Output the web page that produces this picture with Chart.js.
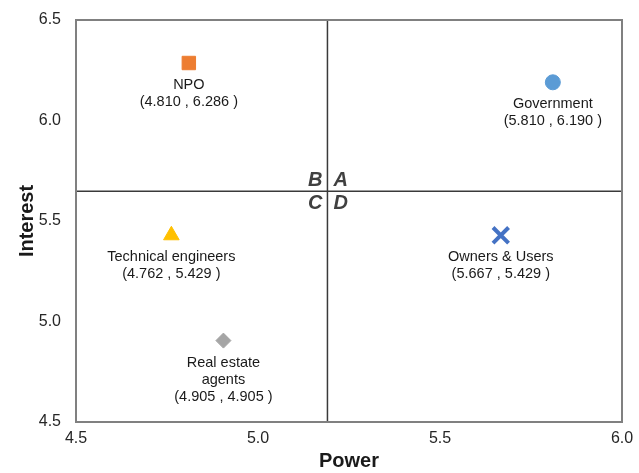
<!DOCTYPE html>
<html>
<head>
<meta charset="utf-8">
<script src="https://cdn.jsdelivr.net/npm/chart.js@4.4.0/dist/chart.umd.min.js"></script>
<style>
  html, body { margin: 0; padding: 0; background: #fff; }
  #wrap { width: 639px; height: 473px; }
</style>
</head>
<body>
<div id="wrap"><canvas id="chart"></canvas></div>
<script>
// stakeholder data
const names = [["NPO"], ["Government"], ["Technical engineers"], ["Owners & Users"], ["Real estate", "agents"]];
const power = [4.810, 5.810, 4.762, 5.667, 4.905];
const interest = [6.286, 6.190, 5.429, 5.429, 4.905];
const colors = ["#ED7D31", "#5B9BD5", "#FFC000", "#4472C4", "#A5A5A5"];
const shapes = ["rect", "circle", "triangle", "crossRot", "rectRot"];
const radii = [9.5, 7.5, 9, 11, 7.5];
const xTicks = [4.5, 5.0, 5.5, 6.0];
const yTicks = [4.5, 5.0, 5.5, 6.0, 6.5];
const quadrantNames = ["B", "A", "C", "D"];

// quadrant split = mean of each axis
const meanX = power.reduce((a, b) => a + b, 0) / power.length;
const meanY = interest.reduce((a, b) => a + b, 0) / interest.length;

const datasets = names.map((n, i) => ({
    label: n.join(" "),
    data: [{ x: power[i], y: interest[i] }],
    pointStyle: shapes[i],
    pointRadius: radii[i],
    pointHoverRadius: radii[i],
    backgroundColor: colors[i],
    borderColor: colors[i],
    borderWidth: shapes[i] === "crossRot" ? 4 : 1,
}));

const font = "'Liberation Sans', Arial, sans-serif";

const overlay = {
    id: "overlay",
    beforeDatasetsDraw(chart) {
        const { ctx, chartArea: a, scales: { x, y } } = chart;
        ctx.save();
        // quadrant lines
        const qx = x.getPixelForValue(meanX);
        const qy = y.getPixelForValue(meanY);
        ctx.strokeStyle = "#3a3a3a";
        ctx.lineWidth = 1.5;
        ctx.beginPath();
        ctx.moveTo(qx, a.top); ctx.lineTo(qx, a.bottom);
        ctx.moveTo(a.left, qy); ctx.lineTo(a.right, qy);
        ctx.stroke();
        // frame
        ctx.strokeStyle = "#808080";
        ctx.lineWidth = 2;
        ctx.strokeRect(a.left, a.top, a.right - a.left, a.bottom - a.top);
        // quadrant letters
        ctx.fillStyle = "#404040";
        ctx.font = "italic bold 20px " + font;
        ctx.textBaseline = "middle";
        ctx.textAlign = "right";
        ctx.fillText(quadrantNames[0], qx - 5, qy - 11);
        ctx.fillText(quadrantNames[2], qx - 5, qy + 12);
        ctx.textAlign = "left";
        ctx.fillText(quadrantNames[1], qx + 6, qy - 11);
        ctx.fillText(quadrantNames[3], qx + 6, qy + 12);
        ctx.restore();
    },
    afterDatasetsDraw(chart) {
        const { ctx, scales: { x, y } } = chart;
        ctx.save();
        ctx.fillStyle = "#1a1a1a";
        ctx.font = "14.5px " + font;
        ctx.textAlign = "center";
        ctx.textBaseline = "middle";
        names.forEach((n, i) => {
            const px = x.getPixelForValue(power[i]);
            const py = y.getPixelForValue(interest[i]);
            const lines = n.concat(["(" + power[i].toFixed(3) + " , " + interest[i].toFixed(3) + " )"]);
            lines.forEach((t, k) => ctx.fillText(t, px, py + 22 + k * 17));
        });
        ctx.restore();
    }
};

new Chart(document.getElementById("chart"), {
    type: "scatter",
    data: { datasets },
    options: {
        responsive: true,
        maintainAspectRatio: false,
        animation: false,
        events: [],
        layout: { padding: { top: 20, right: 17, bottom: 0, left: 0 } },
        plugins: { legend: { display: false }, tooltip: { enabled: false } },
        scales: {
            x: {
                type: "linear",
                min: 4.5, max: 6.0,
                afterBuildTicks: s => { s.ticks = xTicks.map(v => ({ value: v })); },
                afterFit: s => { s.height = 51; },
                grid: { display: false, drawTicks: true, tickLength: 4 },
                border: { display: false },
                ticks: {
                    padding: 3,
                    color: "#262626",
                    font: { family: font, size: 16 },
                    callback: v => v.toFixed(1)
                },
                title: {
                    display: true,
                    text: "Power",
                    color: "#1a1a1a",
                    font: { family: font, size: 20, weight: "bold" },
                    padding: 0
                }
            },
            y: {
                type: "linear",
                min: 4.5, max: 6.5,
                afterBuildTicks: s => { s.ticks = yTicks.map(v => ({ value: v })); },
                afterFit: s => { s.width = 76; },
                grid: { display: false, drawTicks: true, tickLength: 11 },
                border: { display: false },
                ticks: {
                    padding: 4,
                    color: "#262626",
                    font: { family: font, size: 16 },
                    callback: v => v.toFixed(1)
                },
                title: {
                    display: true,
                    text: "Interest",
                    color: "#1a1a1a",
                    font: { family: font, size: 20, weight: "bold" },
                    padding: { top: 15, bottom: 0 }
                }
            }
        }
    },
    plugins: [overlay]
});
</script>
</body>
</html>
